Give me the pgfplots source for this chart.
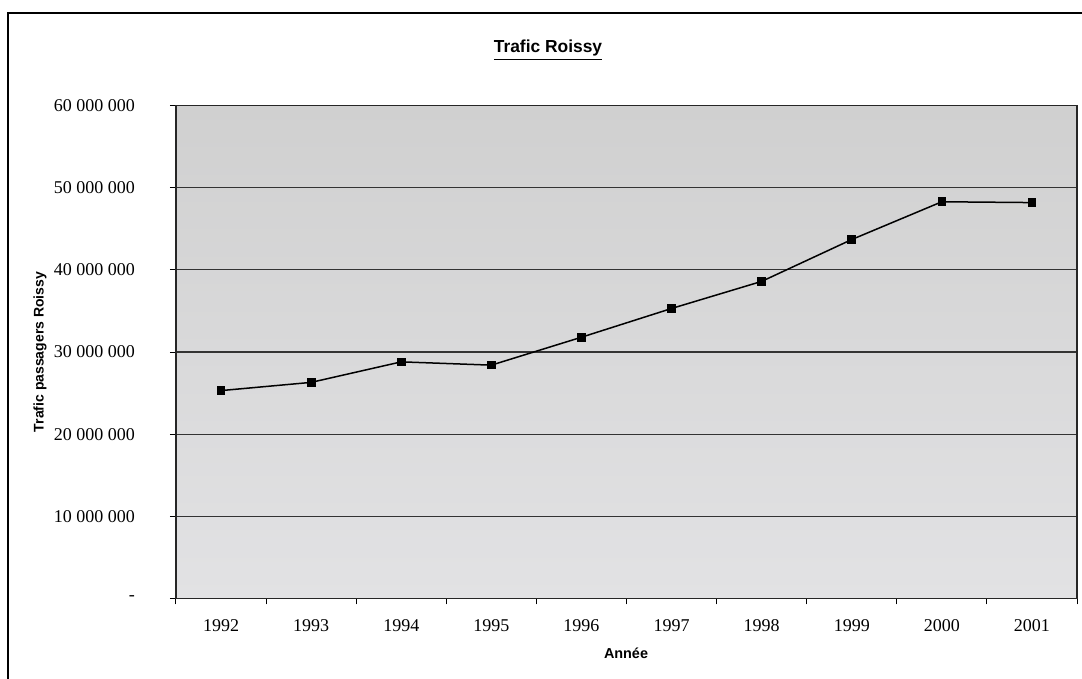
\documentclass[border=0pt]{standalone}
\usepackage{pgfplots}
\pgfplotsset{compat=1.18}
\usepackage{fontspec}
\setmainfont{Liberation Serif}
\setsansfont{Liberation Sans}
\definecolor{bgtop}{RGB}{208,208,208}
\definecolor{bgbot}{RGB}{226,226,228}
\begin{document}
\begin{tikzpicture}[x=0.5pt,y=0.5pt]
\path[use as bounding box] (0,0) rectangle (1082,-679);
\draw[line width=1.2pt] (8,-679) -- (8,-13) -- (1082,-13);
\node[font=\sffamily\bfseries\fontsize{8.7pt}{10pt}\selectfont] at (548,-50) {\underline{Trafic Roissy}};
\node[font=\sffamily\bfseries\fontsize{7pt}{8pt}\selectfont, rotate=90] at (40,-352) {Trafic passagers Roissy};
\node[font=\sffamily\bfseries\fontsize{7.2pt}{8pt}\selectfont] at (626,-653) {Année};
\begin{axis}[
  at={(88pt,-299.15pt)}, anchor=south west,
  scale only axis, width=450.5pt, height=246.3pt,
  xmin=-0.5, xmax=9.5, ymin=0, ymax=60000000,
  scaled y ticks=false,
  axis background/.style={top color=bgtop, bottom color=bgbot},
  axis line style={line width=0.7pt, black!85},
  xtick={0,...,9},
  xticklabels={1992,1993,1994,1995,1996,1997,1998,1999,2000,2001},
  minor xtick={-0.5,0.5,...,9.5},
  major x tick style={draw=none},
  minor x tick style={black, line width=0.5pt},
  minor tick length=3pt,
  xtick pos=bottom, ytick pos=left,
  tick align=outside,
  ytick={0,10000000,20000000,30000000,40000000,50000000,60000000},
  yticklabels={-, 10 000 000, 20 000 000, 30 000 000, 40 000 000, 50 000 000, 60 000 000},
  major tick length=3pt,
  y tick style={black, line width=0.5pt},
  ymajorgrids, grid style={black!80, line width=0.55pt},
  ticklabel style={font=\fontsize{9pt}{10pt}\selectfont},
  xticklabel style={yshift=-4pt},
  yticklabel style={xshift=-14pt},
  clip=false,
]
\addplot[black, line width=0.75pt, mark=square*, mark size=1.8pt, mark options={fill=black}]
coordinates {(0,25300000) (1,26300000) (2,28800000) (3,28400000) (4,31800000) (5,35300000) (6,38600000) (7,43700000) (8,48300000) (9,48200000)};
\end{axis}
\end{tikzpicture}
\end{document}
